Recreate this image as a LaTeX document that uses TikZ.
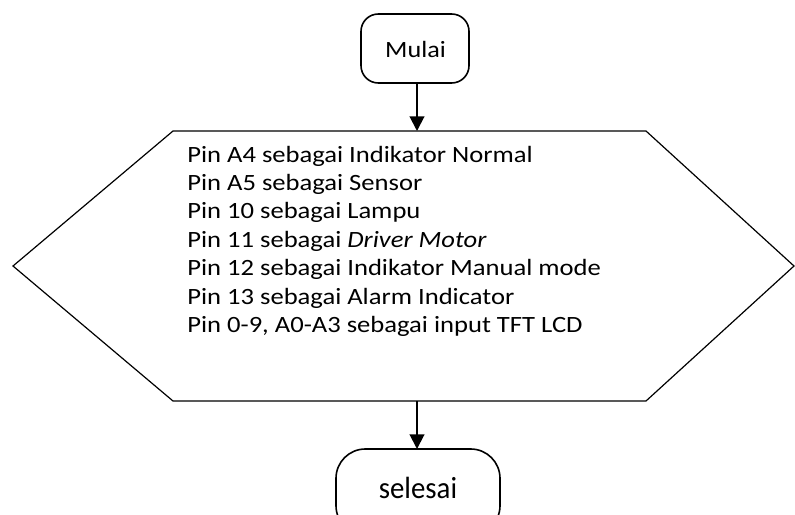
\documentclass[tikz,border=0pt]{standalone}
\usepackage{fontspec}
\setmainfont{Carlito}
\usetikzlibrary{arrows.meta}
\tikzset{
  terminal/.style={draw, line width=1.2pt, rounded corners=13pt, inner sep=0pt},
  flow/.style={line width=1.5pt, -{Triangle[length=11pt,width=11pt]}},
  hexline/.style={line width=0.9pt, line join=miter},
  label/.style={inner sep=0pt, anchor=base},
}
\begin{document}
\begin{tikzpicture}[x=0.75pt,y=-0.75pt]
\useasboundingbox (0,0) rectangle (795,514);
\clip (0,0) rectangle (795,514);
% start terminal
\draw[terminal] (361,14) rectangle (469,83);
\node[label, xscale=1.12, font=\fontsize{17.5}{21}\selectfont] (mulai) at (415.5,57.3) {Mulai};
\coordinate (mulaiB) at (417,83);
% initialisation block (hexagon)
\draw[hexline] (13,266) -- (173,131) -- (646,131) -- (794,266) -- (646,401) -- (173,401) -- cycle;
\coordinate (hexT) at (417,131);
\coordinate (hexB) at (417,401);
\node[inner sep=0pt, anchor=base west, xscale=1.14,
      font=\fontsize{17.5}{21.3}\selectfont] (pins) at (187,162) {%
\begin{tabular}[t]{@{}l@{}}
Pin A4 sebagai Indikator Normal\\
Pin A5 sebagai Sensor\\
Pin 10 sebagai Lampu\\
Pin 11 sebagai \textit{Driver Motor}\\
Pin 12 sebagai Indikator Manual mode\\
Pin 13 sebagai Alarm Indicator\\
Pin 0-9, A0-A3 sebagai input TFT LCD
\end{tabular}};
% end terminal
\draw[terminal, rounded corners=22pt] (336,449) rectangle (500,535);
\node[label, xscale=0.94, font=\fontsize{23}{28}\selectfont] (selesai) at (418,498) {selesai};
\coordinate (selesaiT) at (417,449);
% connectors
\draw[flow] (mulaiB) -- (hexT);
\draw[flow] (hexB) -- (selesaiT);
\end{tikzpicture}
\end{document}
